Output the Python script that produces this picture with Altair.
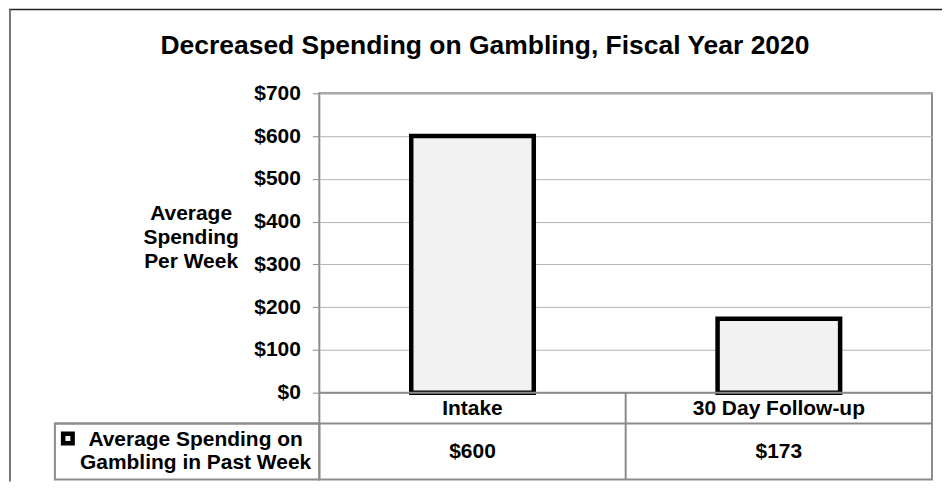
import altair as alt
import pandas as pd

# ---- data ----
categories = ["Intake", "30 Day Follow-up"]
values = [600, 173]
value_labels = ["$600", "$173"]
y_ticks = [0, 100, 200, 300, 400, 500, 600, 700]
series_name = "Average Spending on\nGambling in Past Week"
chart_title = "Decreased Spending on Gambling, Fiscal Year 2020"
y_title = ["Average", "Spending", "Per Week"]

FONT = "Liberation Sans"
GRID = "#b4b4b4"
BORDER = "#8c8c8c"
FS = 21

df = pd.DataFrame({"category": categories, "value": values, "label": value_labels})

x_enc = alt.X(
    "category:N",
    sort=categories,
    scale=alt.Scale(domain=categories, paddingInner=0, paddingOuter=0),
    axis=None,
)

bars = alt.Chart(df).mark_bar(
    width=alt.RelativeBandSize(0.4),
    fill="#f2f2f2",
    stroke="black",
    strokeWidth=4.5,
    strokeJoin="miter",
).encode(
    x=x_enc,
    y=alt.Y(
        "value:Q",
        scale=alt.Scale(domain=[0, 700], range=[300, 0], nice=False, zero=True),
        axis=alt.Axis(
            values=y_ticks,
            format="$,.0f",
            domain=False,
            grid=True,
            gridColor=GRID,
            gridWidth=1,
            ticks=True,
            tickColor=BORDER,
            tickSize=7,
            tickWidth=1,
            labelPadding=12,
            labelFont=FONT,
            labelFontSize=FS,
            labelFontWeight="bold",
            labelColor="black",
            title=y_title,
            titleAngle=0,
            titleX=-129,
            titleY=120,
            titleAlign="center",
            titleBaseline="middle",
            titleFont=FONT,
            titleFontSize=FS,
            titleFontWeight="bold",
            titleColor="black",
            titleLineHeight=24.5,
        ),
    ),
)

cat_text = alt.Chart(df).mark_text(
    font=FONT, fontSize=FS, fontWeight="bold", color="black", baseline="middle"
).encode(x=x_enc, y=alt.value(316), text="category:N")

val_text = alt.Chart(df).mark_text(
    font=FONT, fontSize=FS, fontWeight="bold", color="black", baseline="middle"
).encode(x=x_enc, y=alt.value(359), text="label:N")

one = alt.Data(values=[{"a": 1}])

# table grid lines
line_cat_top = alt.Chart(one).mark_rule(color=BORDER, strokeWidth=2).encode(
    x=alt.value(0), x2=alt.value(614), y=alt.value(300)
)
line_val_top = alt.Chart(one).mark_rule(color=BORDER, strokeWidth=2).encode(
    x=alt.value(-265), x2=alt.value(614), y=alt.value(331)
)
line_divider = alt.Chart(one).mark_rule(color=BORDER, strokeWidth=2).encode(
    x=alt.value(307), y=alt.value(300), y2=alt.value(387)
)
legend_cell = alt.Chart(one).mark_rect(
    fill="white", fillOpacity=0, stroke=BORDER, strokeWidth=2
).encode(x=alt.value(-265), x2=alt.value(0), y=alt.value(331), y2=alt.value(387))

legend_icon = alt.Chart(one).mark_square(
    size=90, fill="#f2f2f2", stroke="black", strokeWidth=4.5, opacity=1
).encode(x=alt.value(-252), y=alt.value(346))

legend_text = alt.Chart(alt.Data(values=[{"s": series_name}])).mark_text(
    font=FONT, fontSize=FS, fontWeight="bold", color="black",
    align="center", baseline="alphabetic", lineBreak="\n", lineHeight=23,
).encode(x=alt.value(-124), y=alt.value(353), text="s:N")

title_text = alt.Chart(alt.Data(values=[{"t": chart_title}])).mark_text(
    font=FONT, fontSize=26.5, fontWeight="bold", color="black",
    align="center", baseline="alphabetic",
).encode(x=alt.value(166), y=alt.value(-39), text="t:N")

# outer frame
frame_top = alt.Chart(one).mark_rule(color="#222222", strokeWidth=1.5).encode(
    x=alt.value(-311), x2=alt.value(624), y=alt.value(-84)
)
frame_left = alt.Chart(one).mark_rule(color="#777777", strokeWidth=2).encode(
    x=alt.value(-310), y=alt.value(-84), y2=alt.value(389)
)

chart = alt.layer(
    bars, line_cat_top, line_val_top, line_divider, legend_cell,
    cat_text, val_text, legend_icon, legend_text, title_text,
    frame_top, frame_left,
).properties(
    width=614, height=387, padding=0, background="white"
).configure_view(
    stroke=BORDER, strokeWidth=2
)

chart.save("out.html", embed_options={"renderer": "svg", "actions": False})
